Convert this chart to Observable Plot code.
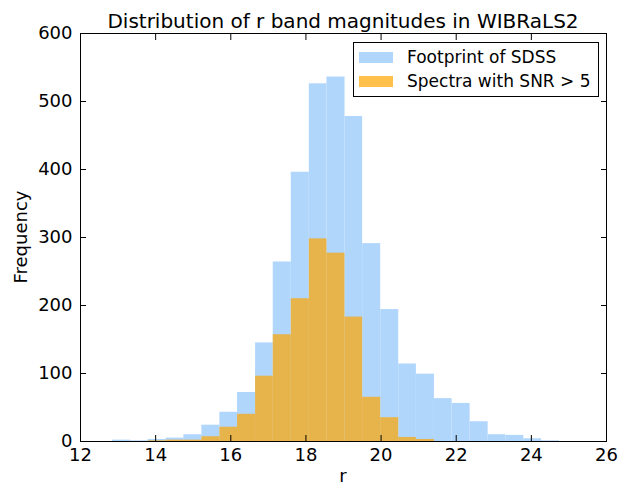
<!DOCTYPE html>
<html><head><meta charset="utf-8">
<script src="https://cdn.jsdelivr.net/npm/d3@7"></script>
<script src="https://cdn.jsdelivr.net/npm/@observablehq/plot@0.6"></script>
<style>
body{margin:0;background:#fff;font-family:"DejaVu Sans",sans-serif;color:#000;}
#wrap{position:relative;width:628px;height:488px;overflow:hidden;}
#title{position:absolute;left:80px;width:526px;top:9px;text-align:center;font-size:20px;white-space:nowrap;}
#xlabel{position:absolute;left:80px;width:526px;top:465px;text-align:center;font-size:18px;}
#ylabel{position:absolute;left:20px;top:237px;font-size:18px;transform:translate(-50%,-50%) rotate(-90deg);white-space:nowrap;}
#legend{position:absolute;left:353px;top:42px;width:246px;height:55px;border:1px solid #000;background:#fff;font-size:17px;box-sizing:border-box;}
.li{position:absolute;left:5px;display:flex;align-items:center;white-space:nowrap;}
.sw{width:34px;height:11px;margin-right:14px;}
</style></head>
<body>
<div id="wrap">
<div id="chart"></div>
<div id="title">Distribution of r band magnitudes in WIBRaLS2</div>
<div id="xlabel">r</div>
<div id="ylabel">Frequency</div>
<div id="legend"></div>
</div>
<script>
const binEdges = [12.85, 13.33, 13.80, 14.28, 14.75, 15.23, 15.71, 16.18, 16.66, 17.13, 17.61, 18.09, 18.56, 19.04, 19.51, 19.99, 20.47, 20.94, 21.42, 21.89, 22.37, 22.85, 23.32, 23.80, 24.27, 24.75];
const sdssCounts = [2, 1, 3, 5, 10, 24, 43, 72, 145, 264, 396, 526, 536, 478, 291, 194, 114, 99, 63, 56, 29, 10, 9, 4, 1];
const snrCounts = [0, 0, 1, 2, 2, 7, 21, 40, 96, 157, 210, 298, 277, 183, 65, 35, 6, 3, 0, 0, 0, 0, 0, 0, 0];
const seriesNames = ["Footprint of SDSS", "Spectra with SNR > 5"];
const seriesColors = ["#b0d6fc", "#ffa500"];
const seriesOpacity = [1, 0.7];
const xTicks = [12, 14, 16, 18, 20, 22, 24, 26];
const yTicks = [0, 100, 200, 300, 400, 500, 600];

const toBins = counts => counts.map((c, i) => ({x1: binEdges[i], x2: binEdges[i + 1], count: c}));
const sdss = toBins(sdssCounts);
const snr = toBins(snrCounts).filter(d => d.count > 0);

const blank = () => "";
const chart = Plot.plot({
  width: 628, height: 488,
  marginTop: 33, marginLeft: 80, marginRight: 22, marginBottom: 47,
  style: {fontFamily: "DejaVu Sans", fontSize: "18px", background: "white", color: "black", overflow: "visible"},
  x: {domain: [12, 26], label: null},
  y: {domain: [0, 600], label: null},
  marks: [
    Plot.rectY(sdss, {x1: "x1", x2: "x2", y: "count", fill: seriesColors[0], fillOpacity: seriesOpacity[0]}),
    Plot.rectY(snr, {x1: "x1", x2: "x2", y: "count", fill: seriesColors[1], fillOpacity: seriesOpacity[1]}),
    Plot.frame({stroke: "black", strokeWidth: 1}),
    Plot.axisX({anchor: "bottom", ticks: xTicks, tickSize: 6, dy: -6, tickFormat: blank, label: null}),
    Plot.axisX({anchor: "top", ticks: xTicks, tickSize: 6, dy: 6, tickFormat: blank, label: null}),
    Plot.axisY({anchor: "left", ticks: yTicks, tickSize: 6, dx: 6, tickFormat: blank, label: null}),
    Plot.axisY({anchor: "right", ticks: yTicks, tickSize: 6, dx: -6, tickFormat: blank, label: null}),
    Plot.axisX({anchor: "bottom", ticks: xTicks, tickSize: 0, tickPadding: 7, tickFormat: d => String(d), label: null}),
    Plot.axisY({anchor: "left", ticks: yTicks, tickSize: 0, tickPadding: 8, tickFormat: d => String(d), label: null})
  ]
});
document.getElementById("chart").appendChild(chart);

const legend = document.getElementById("legend");
seriesNames.forEach((name, i) => {
  const row = document.createElement("div");
  row.className = "li";
  row.style.top = (i === 0 ? 4 : 28) + "px";
  const sw = document.createElement("div");
  sw.className = "sw";
  sw.style.background = seriesColors[i];
  sw.style.opacity = seriesOpacity[i];
  const t = document.createElement("span");
  t.textContent = name;
  row.appendChild(sw); row.appendChild(t);
  legend.appendChild(row);
});
</script>
</body></html>
